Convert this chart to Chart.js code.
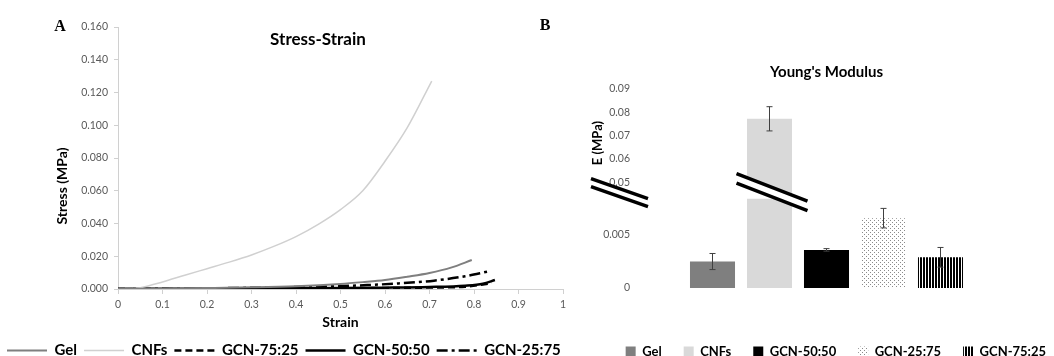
<!DOCTYPE html>
<html>
<head>
<meta charset="utf-8">
<script src="https://cdn.jsdelivr.net/npm/chart.js@4.4.1/dist/chart.umd.min.js"></script>
<style>
  html, body { margin: 0; padding: 0; background: #fff; overflow: hidden; }
  #wrap { position: relative; width: 1054px; height: 356px; overflow: hidden; }
  #stressBox { position: absolute; left: 0; top: 0; width: 636px; height: 368px; }
  #youngBox { position: absolute; left: 530px; top: 0; width: 538px; height: 368px; }
</style>
</head>
<body>
<div id="wrap">
  <div id="stressBox"><canvas id="stressChart"></canvas></div>
  <div id="youngBox"><canvas id="youngChart"></canvas></div>
</div>
<script>
// ================================
// DATA - A: stress / strain curves
// ================================
const gelStrain = [0, 0.1, 0.2, 0.3, 0.4, 0.5, 0.55, 0.6, 0.65, 0.7, 0.75, 0.795];
const gelStress = [0, 0.0003, 0.0006, 0.001, 0.0017, 0.0031, 0.0042, 0.0055, 0.0075, 0.0098, 0.0132, 0.0177];

const cnfStrain = [0, 0.03, 0.05, 0.1, 0.15, 0.2, 0.25, 0.3, 0.35, 0.4, 0.45, 0.5, 0.55, 0.6, 0.65, 0.705];
const cnfStress = [0, 0.0001, 0.0008, 0.0043, 0.0084, 0.0124, 0.0164, 0.0208, 0.026, 0.032, 0.0395, 0.0485, 0.06, 0.078, 0.0985, 0.127];

const gcn7525Strain = [0, 0.2, 0.4, 0.6, 0.7, 0.78, 0.84];
const gcn7525Stress = [0, 0.0001, 0.0003, 0.0006, 0.0009, 0.0014, 0.0036];

const gcn5050Strain = [0, 0.2, 0.4, 0.6, 0.7, 0.78, 0.82, 0.847];
const gcn5050Stress = [0, 0.0002, 0.0004, 0.0008, 0.0012, 0.002, 0.0032, 0.0055];

const gcn2575Strain = [0, 0.2, 0.4, 0.5, 0.56, 0.63, 0.71, 0.78, 0.83];
const gcn2575Stress = [0, 0.0004, 0.0012, 0.0018, 0.0024, 0.0034, 0.0051, 0.0078, 0.0106];

// ================================
// DATA - B: Young's modulus
// ================================
const modulusLabels = ["Gel", "CNFs", "GCN-50:50", "GCN-25:75", "GCN-75:25"];
const modulusMean = [0.0025, 0.0772, 0.0036, 0.0066, 0.0029];
const modulusErr = [0.00076, 0.0052, 0.00012, 0.00092, 0.00093];
const modulusTicks = [0, 0.005, 0.05, 0.06, 0.07, 0.08, 0.09];
const modulusTickLabels = ["0", "0.005", "0.05", "0.06", "0.07", "0.08", "0.09"];

// broken axis: 0..0.01 normal, 0.05..0.09 squeezed on top
const LOW_MAX = 0.01;
const HIGH_MIN = 0.05;
const SQUEEZE = 0.22;

function toDisplay(v) {
  if (v <= LOW_MAX) return v;
  if (v >= HIGH_MIN) return LOW_MAX + (v - HIGH_MIN) * SQUEEZE;
  return LOW_MAX;
}

class BrokenScale extends Chart.LinearScale {
  static id = "broken";
  getPixelForValue(value) {
    return super.getPixelForValue(toDisplay(value));
  }
}
Chart.register(BrokenScale);

Chart.defaults.font.family = "Lato";
const TICK_COLOR = "#595959";
const AXIS_COLOR = "#d0d0d0";
const CANVAS_H = 368;

// ================================
// HELPERS
// ================================
function curve(label, xs, ys, color, width, dash) {
  return {
    label: label,
    data: xs.map((x, i) => ({ x: x, y: ys[i] })),
    borderColor: color,
    backgroundColor: color,
    borderWidth: width,
    borderDash: dash,
    pointRadius: 0,
    cubicInterpolationMode: "monotone",
    fill: false
  };
}

function makePattern(w, h, draw) {
  const c = document.createElement("canvas");
  c.width = w;
  c.height = h;
  const g = c.getContext("2d");
  draw(g);
  return g.createPattern(c, "repeat");
}

const dotFill = makePattern(4, 4, g => {
  g.fillStyle = "#fff";
  g.fillRect(0, 0, 4, 4);
  g.fillStyle = "#8a8a8a";
  g.fillRect(0, 0, 1, 1);
  g.fillRect(2, 2, 1, 1);
});

const stripeFill = makePattern(3, 3, g => {
  g.fillStyle = "#fff";
  g.fillRect(0, 0, 3, 3);
  g.fillStyle = "#000";
  g.fillRect(0, 0, 2, 3);
});

const barFills = ["#7f7f7f", "#d9d9d9", "#000000", dotFill, stripeFill];

// free text (panel letters, titles that sit inside the plot)
const panelText = {
  id: "panelText",
  afterDraw(chart, args, opts) {
    const ctx = chart.ctx;
    (opts.items || []).forEach(t => {
      ctx.save();
      ctx.font = t.font;
      ctx.fillStyle = "#000";
      ctx.textAlign = "center";
      ctx.textBaseline = "middle";
      ctx.translate(t.x, t.y);
      if (t.rotate) ctx.rotate(t.rotate);
      ctx.fillText(t.text, 0, 0);
      ctx.restore();
    });
  }
};

const errorBars = {
  id: "errorBars",
  afterDatasetsDraw(chart) {
    const meta = chart.getDatasetMeta(0);
    const y = chart.scales.y;
    const ctx = chart.ctx;
    ctx.save();
    ctx.strokeStyle = "#404040";
    ctx.lineWidth = 1;
    meta.data.forEach((bar, i) => {
      const top = y.getPixelForValue(modulusMean[i] + modulusErr[i]);
      const bot = y.getPixelForValue(modulusMean[i] - modulusErr[i]);
      ctx.beginPath();
      ctx.moveTo(bar.x, top); ctx.lineTo(bar.x, bot);
      ctx.moveTo(bar.x - 3, top); ctx.lineTo(bar.x + 3, top);
      ctx.moveTo(bar.x - 3, bot); ctx.lineTo(bar.x + 3, bot);
      ctx.stroke();
    });
    ctx.restore();
  }
};

function drawBreak(ctx, x1, y1, x2, y2, gap) {
  ctx.fillStyle = "#fff";
  ctx.beginPath();
  ctx.moveTo(x1, y1); ctx.lineTo(x2, y2);
  ctx.lineTo(x2, y2 + gap); ctx.lineTo(x1, y1 + gap);
  ctx.closePath();
  ctx.fill();
  ctx.strokeStyle = "#000";
  ctx.lineWidth = 3.5;
  ctx.beginPath();
  ctx.moveTo(x1, y1); ctx.lineTo(x2, y2);
  ctx.moveTo(x1, y1 + gap); ctx.lineTo(x2, y2 + gap);
  ctx.stroke();
}

const breakMarks = {
  id: "breakMarks",
  afterDatasetsDraw(chart) {
    const ctx = chart.ctx;
    const area = chart.chartArea;
    const yb = chart.scales.y.getPixelForValue(HIGH_MIN);
    const bar = chart.getDatasetMeta(0).data[1];
    ctx.save();
    // on the axis
    drawBreak(ctx, area.left - 93, yb - 3.5, area.left - 36, yb + 16.5, 8);
    // across the CNFs bar: white notch below the lower line
    const x1 = bar.x - 33, y1 = yb - 8.5, x2 = bar.x + 38, y2 = yb + 19, gap = 9.5;
    const flat = yb + 16.5;
    const left = bar.x - bar.width / 2;
    const slope = (y2 - y1) / (x2 - x1);
    const yl = y1 + gap + (left - x1) * slope;
    const xi = x1 + (flat - y1 - gap) / slope;
    ctx.fillStyle = "#fff";
    ctx.beginPath();
    ctx.moveTo(left, yl); ctx.lineTo(xi, flat); ctx.lineTo(left, flat);
    ctx.closePath();
    ctx.fill();
    drawBreak(ctx, x1, y1, x2, y2, gap);
    ctx.restore();
  }
};

// ================================
// A: STRESS-STRAIN
// ================================
const legendA = { font: 15, pad: 7 };

new Chart(document.getElementById("stressChart"), {
  type: "line",
  data: {
    datasets: [
      curve("Gel", gelStrain, gelStress, "#7f7f7f", 2, []),
      curve("CNFs", cnfStrain, cnfStress, "#d0d0d0", 1.5, []),
      curve("GCN-75:25", gcn7525Strain, gcn7525Stress, "#000", 2.5, [7, 4]),
      curve("GCN-50:50", gcn5050Strain, gcn5050Stress, "#000", 2.5, []),
      curve("GCN-25:75", gcn2575Strain, gcn2575Stress, "#000", 2.5, [11, 4, 3, 4])
    ]
  },
  options: {
    responsive: true,
    maintainAspectRatio: false,
    animation: false,
    layout: { padding: { top: 27, left: 0, right: 0, bottom: 0 } },
    scales: {
      x: {
        type: "linear",
        min: 0,
        max: 1,
        ticks: {
          stepSize: 0.1,
          padding: 4,
          color: TICK_COLOR,
          font: { size: 10.5 },
          callback: v => String(Math.round(v * 10) / 10)
        },
        grid: { drawOnChartArea: false, drawTicks: true, tickLength: 5, color: AXIS_COLOR },
        border: { color: AXIS_COLOR },
        title: {
          display: true,
          text: "Strain",
          color: "#000",
          font: { size: 14, weight: "bold" },
          padding: { top: 0, bottom: 5 }
        },
        afterFit: s => { s.height = CANVAS_H - 289 - (legendA.font + legendA.pad + 10); }
      },
      y: {
        min: 0,
        max: 0.16,
        ticks: {
          stepSize: 0.02,
          padding: 6,
          color: TICK_COLOR,
          font: { size: 10.5 },
          callback: v => v.toFixed(3)
        },
        grid: { drawOnChartArea: false, drawTicks: true, tickLength: 4, color: AXIS_COLOR },
        border: { color: AXIS_COLOR },
        afterFit: s => { s.width = 118; }
      },
      spacer: {
        position: "right",
        display: true,
        ticks: { display: false },
        grid: { display: false, drawTicks: false },
        border: { display: false },
        afterFit: s => { s.width = 73; }
      }
    },
    plugins: {
      legend: {
        position: "bottom",
        align: "start",
        labels: {
          usePointStyle: true,
          pointStyle: "line",
          pointStyleWidth: 40,
          padding: legendA.pad,
          color: "#000",
          font: { size: legendA.font, weight: "bold" },
          // line samples keep each dataset's dash pattern
          generateLabels: chart => chart.data.datasets.map((d, i) => ({
            text: d.label,
            fillStyle: d.borderColor,
            strokeStyle: d.borderColor,
            lineWidth: d.borderWidth,
            lineDash: d.borderDash,
            pointStyle: "line",
            hidden: false,
            datasetIndex: i
          }))
        }
      },
      tooltip: { enabled: false },
      panelText: {
        items: [
          { text: "A", x: 60, y: 27, font: 'bold 16px "Liberation Serif"' },
          { text: "Stress-Strain", x: 318, y: 40, font: "bold 17px Lato" },
          { text: "Stress (MPa)", x: 62, y: 186, rotate: -Math.PI / 2, font: "bold 14px Lato" }
        ]
      }
    }
  },
  plugins: [panelText]
});

// ================================
// B: YOUNG'S MODULUS
// ================================
const legendB = { font: 13, pad: 22 };

new Chart(document.getElementById("youngChart"), {
  type: "bar",
  data: {
    labels: modulusLabels,
    datasets: [{
      label: "E (MPa)",
      data: modulusMean,
      backgroundColor: barFills,
      borderWidth: 0,
      barPercentage: 0.79,
      categoryPercentage: 1
    }]
  },
  options: {
    responsive: true,
    maintainAspectRatio: false,
    animation: false,
    scales: {
      x: {
        ticks: { display: false },
        grid: { display: false, drawTicks: false },
        border: { display: false },
        afterFit: s => { s.height = CANVAS_H - 288 - (legendB.font + legendB.pad + 10); }
      },
      y: {
        type: "broken",
        min: 0,
        max: toDisplay(0.09),
        bounds: "data",
        afterBuildTicks: s => { s.ticks = modulusTicks.map(v => ({ value: v })); },
        ticks: {
          autoSkip: false,
          padding: 54,
          color: TICK_COLOR,
          font: { size: 10.5 },
          callback: (v, i) => modulusTickLabels[i]
        },
        grid: { display: false, drawTicks: false },
        border: { display: false },
        afterFit: s => { s.width = 154; }
      },
      spacer: {
        position: "right",
        display: true,
        ticks: { display: false },
        grid: { display: false, drawTicks: false },
        border: { display: false },
        afterFit: s => { s.width = 99; }
      }
    },
    plugins: {
      title: {
        display: true,
        text: "Young's Modulus",
        fullSize: false,
        color: "#000",
        font: { size: 15, weight: "bold" },
        padding: { top: 63, bottom: 8 }
      },
      legend: {
        position: "bottom",
        align: "end",
        labels: {
          boxWidth: 10,
          boxHeight: 10,
          padding: legendB.pad,
          color: "#000",
          font: { size: legendB.font, weight: "bold" },
          generateLabels: () => modulusLabels.map((t, i) => ({
            text: t,
            fillStyle: barFills[i],
            strokeStyle: "rgba(0,0,0,0)",
            lineWidth: 0,
            hidden: false,
            index: i
          }))
        }
      },
      tooltip: { enabled: false },
      panelText: {
        items: [
          { text: "B", x: 15, y: 26, font: 'bold 16px "Liberation Serif"' },
          { text: "E (MPa)", x: 68, y: 143, rotate: -Math.PI / 2, font: "bold 13px Lato" }
        ]
      }
    }
  },
  plugins: [errorBars, breakMarks, panelText]
});
</script>
</body>
</html>
